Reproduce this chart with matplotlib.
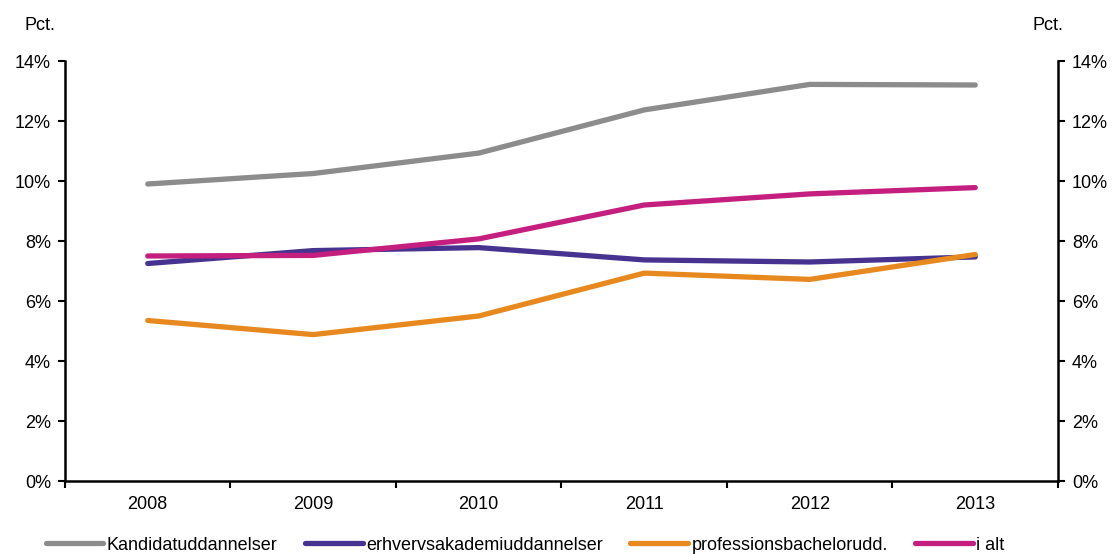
import matplotlib
matplotlib.use("Agg")
import matplotlib.pyplot as plt
import numpy as np
from matplotlib.ticker import FuncFormatter, FixedLocator

plt.rcParams['font.family'] = ['Liberation Sans', 'DejaVu Sans']

years = ["2008", "2009", "2010", "2011", "2012", "2013"]
kandidat = [9.9, 10.25, 10.93, 12.37, 13.22, 13.2]
erhverv = [7.25, 7.68, 7.78, 7.37, 7.3, 7.47]
profession = [5.35, 4.88, 5.5, 6.93, 6.72, 7.55]
i_alt = [7.5, 7.52, 8.07, 9.2, 9.57, 9.78]

series = [
    ("Kandidatuddannelser", kandidat, "#8C8C8C"),
    ("erhvervsakademiuddannelser", erhverv, "#46338F"),
    ("professionsbachelorudd.", profession, "#E8891F"),
    ("i alt", i_alt, "#C41F7F"),
]

FS = 13

fig = plt.figure(figsize=(11.15, 5.54), dpi=100)
ax = fig.add_axes([65/1115, 1-481/554, (1058-65)/1115, (481-61)/554])
x = np.arange(len(years))
for name, vals, col in series:
    ax.plot(x, vals, color=col, lw=3.8, solid_capstyle='round', solid_joinstyle='round', label=name)

ax.set_xlim(-0.5, len(years)-0.5)
ax.set_ylim(0, 14)
ax.set_xticks(x)
ax.set_xticklabels(years)
ax.xaxis.set_minor_locator(FixedLocator(np.arange(-0.5, len(years), 1.0)))
ax.tick_params(axis='x', which='major', length=0, pad=11, labelsize=FS)
ax.tick_params(axis='x', which='minor', length=5, width=1.5, direction='out')
ax.set_yticks(np.arange(0, 15, 2))
ax.yaxis.set_major_formatter(FuncFormatter(lambda v, p: f"{int(v)}%"))
ax.tick_params(axis='y', length=5, width=1.5, direction='out', labelsize=FS, pad=5)

ax2 = ax.twinx()
ax2.set_ylim(0, 14)
ax2.set_yticks(np.arange(0, 15, 2))
ax2.yaxis.set_major_formatter(FuncFormatter(lambda v, p: f"{int(v)}%"))
ax2.tick_params(axis='y', length=5, width=1.5, direction='out', labelsize=FS, pad=5)

for a in (ax, ax2):
    a.spines['top'].set_visible(False)
    for s in ('left', 'right', 'bottom'):
        a.spines[s].set_linewidth(1.8)
ax.spines['right'].set_visible(False)
ax2.spines['left'].set_visible(False)
ax2.spines['bottom'].set_visible(False)

fig.text(40/1115, 1-25/554, "Pct.", fontsize=FS, ha='center', va='center')
fig.text(1048/1115, 1-25/554, "Pct.", fontsize=FS, ha='center', va='center')

handles, labels = ax.get_legend_handles_labels()
fig.legend(handles, labels, loc='center', bbox_to_anchor=(525/1115, 1-545/554), ncol=4,
           frameon=False, fontsize=FS, handlelength=3.2, handletextpad=0.2, columnspacing=1.5,
           borderaxespad=0, borderpad=0)

fig.savefig("out.png", dpi=100)
